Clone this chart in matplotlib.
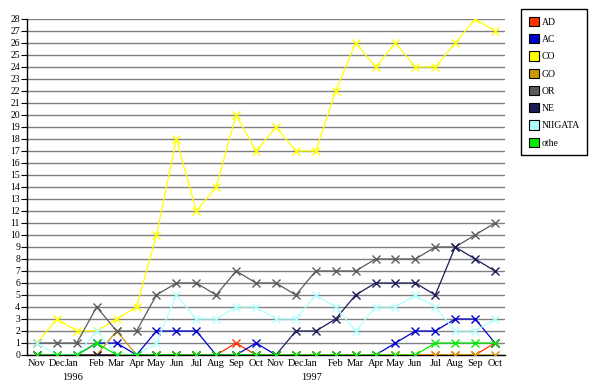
import matplotlib.pyplot as plt
from matplotlib.patches import Patch

months = ["Nov", "Dec", "Jan", "Feb", "Mar", "Apr", "May", "Jun", "Jul", "Aug", "Sep", "Oct",
          "Nov", "Dec", "Jan", "Feb", "Mar", "Apr", "May", "Jun", "Jul", "Aug", "Sep", "Oct"]
years = {2: "1996", 14: "1997"}

ad = [0, 0, 0, 0, 0, 0, 0, 0, 0, 0, 1, 0, 0, 0, 0, 0, 0, 0, 0, 0, 0, 0, 0, 1]
ac = [0, 0, 0, 1, 1, 0, 2, 2, 2, 0, 0, 1, 0, 0, 0, 0, 0, 0, 1, 2, 2, 3, 3, 1]
co = [1, 3, 2, 2, 3, 4, 10, 18, 12, 14, 20, 17, 19, 17, 17, 22, 26, 24, 26, 24, 24, 26, 28, 27]
go = [0, 0, 0, 0, 2, 0, 0, 0, 0, 0, 0, 0, 0, 0, 0, 0, 0, 0, 0, 0, 0, 0, 0, 0]
orr = [1, 1, 1, 4, 2, 2, 5, 6, 6, 5, 7, 6, 6, 5, 7, 7, 7, 8, 8, 8, 9, 9, 10, 11]
ne = [0, 0, 0, 0, 0, 0, 0, 0, 0, 0, 0, 0, 0, 2, 2, 3, 5, 6, 6, 6, 5, 9, 8, 7]
niigata = [1, 0, 0, 2, 0, 0, 1, 5, 3, 3, 4, 4, 3, 3, 5, 4, 2, 4, 4, 5, 4, 2, 2, 3]
othe = [0, 0, 0, 1, 0, 0, 0, 0, 0, 0, 0, 0, 0, 0, 0, 0, 0, 0, 0, 0, 1, 1, 1, 1]

series = [("AD", ad, "#ff3300"), ("AC", ac, "#0000cc"), ("CO", co, "#ffff00"),
          ("GO", go, "#cc9900"), ("OR", orr, "#5a5a5a"), ("NE", ne, "#1c1c58"),
          ("NIIGATA", niigata, "#b0ffff"), ("othe", othe, "#00ee00")]

plt.rcParams["font.family"] = ["Liberation Serif", "DejaVu Serif"]

fig = plt.figure(figsize=(5.93, 3.86), dpi=100)
ax = fig.add_axes([27 / 593, 31 / 386, 478 / 593, 336 / 386])

x = list(range(len(months)))
for name, vals, col in series:
    ax.plot(x, vals, color=col, lw=0.9, marker="x", ms=5.5, mew=1, zorder=3)

ax.set_xlim(-0.5, 23.5)
ax.set_ylim(0, 28)
ax.set_yticks(range(29))
ax.tick_params(axis="y", labelsize=7, length=4, width=0.8, pad=1)
ax.yaxis.grid(True, color="#808080", lw=1)
ax.set_axisbelow(True)
for s in ["top", "right"]:
    ax.spines[s].set_visible(False)
ax.spines["left"].set_linewidth(1)
ax.spines["bottom"].set_linewidth(1)

ax.set_xticks(x)
ax.set_xticklabels([])
ax.tick_params(axis="x", length=0)
for i, m in enumerate(months):
    ha = "right" if m == "Jan" else "center"
    xi = i + 0.1 if m == "Jan" else i
    ax.text(xi, -0.35, m, ha=ha, va="top", fontsize=7.5, clip_on=False)
for i, yr in years.items():
    ax.text(i - 0.2, -1.5, yr, ha="center", va="top", fontsize=7.5, clip_on=False)

handles = [Patch(facecolor=c, edgecolor="black", lw=0.8, label=n) for n, v, c in series]
leg = fig.legend(handles=handles, loc="upper left", bbox_to_anchor=(521 / 593, 1 - 9 / 386),
                 borderaxespad=0, fancybox=False, edgecolor="black", framealpha=1,
                 fontsize=7, handlelength=1.0, handleheight=1.1, handletextpad=0.3,
                 labelspacing=0.75, borderpad=0.8)
leg.get_frame().set_linewidth(1)

fig.savefig("out.png", dpi=100)
